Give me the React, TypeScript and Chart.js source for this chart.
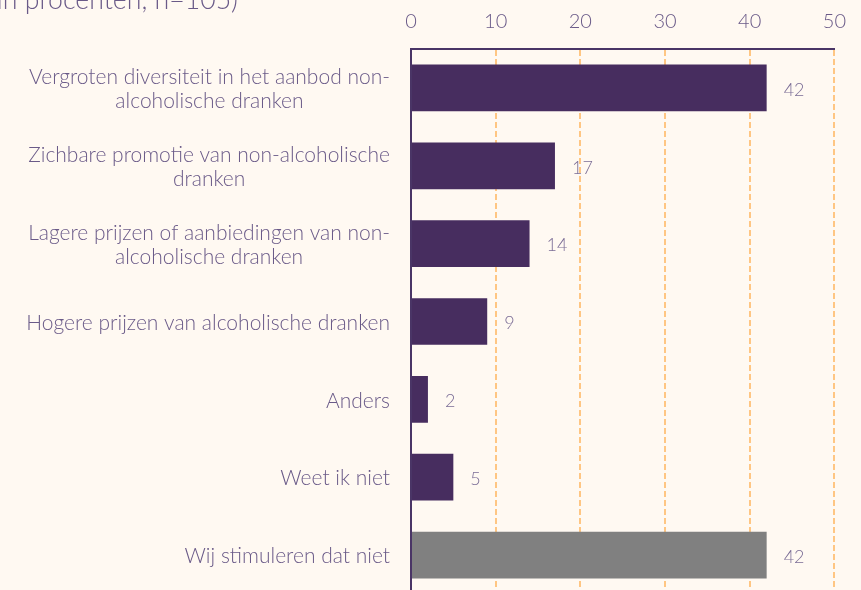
import React, { useEffect, useRef } from "react";
import { Chart, registerables } from "chart.js";

Chart.register(...registerables);

const titleText = "(in procenten, n=105)";
const categories: string[][] = [
  ["Vergroten diversiteit in het aanbod non-", "alcoholische dranken"],
  ["Zichbare promotie van non-alcoholische", "dranken"],
  ["Lagere prijzen of aanbiedingen van non-", "alcoholische dranken"],
  ["Hogere prijzen van alcoholische dranken"],
  ["Anders"],
  ["Weet ik niet"],
  ["Wij stimuleren dat niet"],
];
const values = [42, 17, 14, 9, 2, 5, 42];
const barColors = ["#472d5f", "#472d5f", "#472d5f", "#472d5f", "#472d5f", "#472d5f", "#808080"];
const xTicks = [0, 10, 20, 30, 40, 50];

const FONT = "Lato, 'Open Sans', sans-serif";
const TEXT = "#6a5a88";
const LABEL = "#7b6d96";
const AXIS = "#4a3566";
const GRID = "#ffc683";
const BG = "#fff9f2";

const customPlugin = {
  id: "custom",
  afterDraw(chart: any) {
    const ctx = chart.ctx;
    const y = chart.scales.y;
    ctx.save();
    // title
    ctx.font = `300 26.7px ${FONT}`;
    ctx.fillStyle = TEXT;
    ctx.textAlign = "right";
    ctx.textBaseline = "alphabetic";
    ctx.fillText(titleText, 238, 9);
    // y labels: each block right-aligned, lines centred
    ctx.font = `300 21px ${FONT}`;
    ctx.textBaseline = "middle";
    ctx.textAlign = "center";
    const lh = 24;
    categories.forEach((lines, i) => {
      const cy = y.getPixelForTick(i) + 1.5;
      const widest = Math.max(...lines.map((l) => ctx.measureText(l).width));
      const cx = y.right - 21 - widest / 2;
      lines.forEach((l, k) => {
        ctx.fillText(l, cx, cy - ((lines.length - 1) * lh) / 2 + k * lh);
      });
    });
    // data labels
    ctx.font = `300 18px ${FONT}`;
    ctx.fillStyle = LABEL;
    ctx.textAlign = "left";
    const meta = chart.getDatasetMeta(0);
    meta.data.forEach((el: any, i: number) => {
      ctx.fillText(String(values[i]), el.x + 17, el.y + 2);
    });
    ctx.restore();
  },
};

export default function App() {
  const ref = useRef<HTMLCanvasElement>(null);
  useEffect(() => {
    if (!ref.current) return;
    const chart = new Chart(ref.current, {
      type: "bar",
      data: {
        labels: categories.map((c) => c.join(" ")),
        datasets: [
          {
            data: values,
            backgroundColor: barColors,
            borderWidth: 0,
            categoryPercentage: 1,
            barPercentage: 0.6,
          },
        ],
      },
      options: {
        indexAxis: "y",
        animation: false,
        responsive: false,
        maintainAspectRatio: false,
        layout: { padding: { left: 0, right: 26, top: 0, bottom: 7 } },
        plugins: {
          legend: { display: false },
          title: { display: false },
          tooltip: { enabled: false },
        },
        scales: {
          x: {
            position: "top",
            min: 0,
            max: 50,
            afterBuildTicks: (s: any) => {
              s.ticks = xTicks.map((v) => ({ value: v }));
            },
            afterFit: (s: any) => {
              s.height = 49;
            },
            ticks: {
              color: TEXT,
              font: { family: FONT, size: 20, weight: "300" },
              padding: 15,
            },
            grid: { color: GRID, lineWidth: 2, drawTicks: false },
            border: { display: true, color: AXIS, width: 2, dash: [6, 3] },
          },
          y: {
            afterFit: (s: any) => {
              s.width = 411;
            },
            ticks: { display: false },
            grid: { display: false, drawTicks: false },
            border: { display: true, color: AXIS, width: 2 },
          },
        },
      },
      plugins: [customPlugin],
    });
    return () => chart.destroy();
  }, []);
  return (
    <div
      style={{
        position: "absolute",
        left: 0,
        top: 0,
        width: 861,
        height: 590,
        overflow: "hidden",
        background: BG,
      }}
    >
      <canvas ref={ref} width={861} height={601} style={{ display: "block" }} />
    </div>
  );
}
